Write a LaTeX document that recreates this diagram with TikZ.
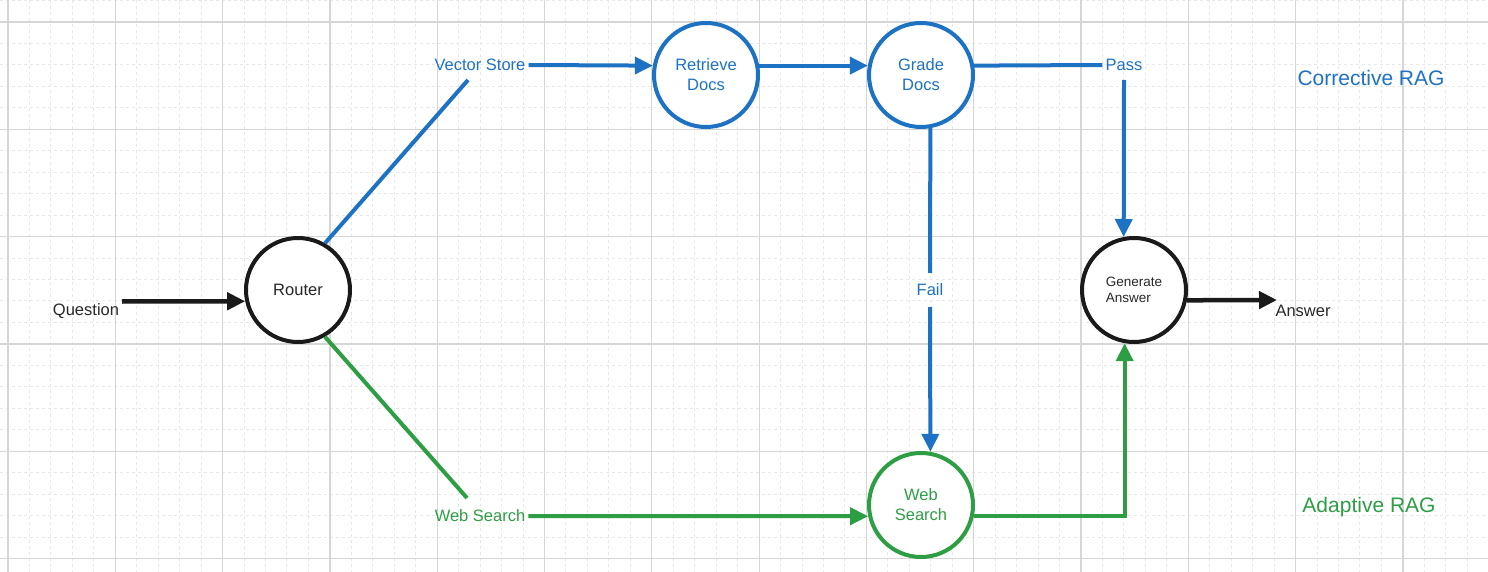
\documentclass[tikz,border=0pt]{standalone}
\usepackage{fontspec}
\setmainfont{Liberation Sans}
\usetikzlibrary{arrows.meta}
\begin{document}
\definecolor{cblue}{RGB}{30,114,196}
\definecolor{cgreen}{RGB}{46,158,68}
\definecolor{cblack}{RGB}{26,26,26}
\definecolor{ctext}{RGB}{40,40,40}
\definecolor{gmajor}{RGB}{214,214,214}
\definecolor{gminor}{RGB}{232,232,232}
\tikzset{
  tip/.style={-{Triangle[length=18pt,width=17pt]}},
  circ/.style={circle,minimum size=104pt,inner sep=0pt,line width=4pt,align=center,font=\fontsize{16.5}{20}\selectfont},
  lbl/.style={inner sep=3pt,font=\fontsize{16.5}{20}\selectfont},
  bline/.style={draw=cblue,line width=4pt},
  gline/.style={draw=cgreen,line width=4pt},
  kline/.style={draw=cblack,line width=4.5pt},
}
\begin{tikzpicture}[x=1pt,y=-1pt]
\useasboundingbox (0,0) rectangle (1488,572);
\fill[white] (0,0) rectangle (1488,572);
% minor grid
\foreach \i in {-1,...,70} {
  \draw[gminor,line width=1pt,dash pattern=on 3pt off 3pt] ({8+\i*21.46},0) -- ({8+\i*21.46},572);
}
\foreach \i in {-2,...,27} {
  \draw[gminor,line width=1pt,dash pattern=on 3pt off 3pt] (0,{22+\i*21.46}) -- (1488,{22+\i*21.46});
}
% major grid
\foreach \i in {0,...,13} {
  \draw[gmajor,line width=1.2pt] ({8+\i*107.3},0) -- ({8+\i*107.3},572);
}
\foreach \i in {0,...,5} {
  \draw[gmajor,line width=1.2pt] (0,{22+\i*107.3}) -- (1488,{22+\i*107.3});
}
% nodes
\node[circ,draw=cblack,fill=white,text=ctext] (router) at (298,290) {Router};
\node[circ,draw=cblue,fill=white,text=cblue] (ret) at (706,75) {Retrieve\\Docs};
\node[circ,draw=cblue,fill=white,text=cblue] (grade) at (921,75) {Grade\\Docs};
\node[circ,draw=cblack,fill=white,text=ctext,font=\fontsize{13.5}{16}\selectfont,align=left] (gen) at (1134,290) {Generate\\Answer};
\node[circ,draw=cgreen,fill=white,text=cgreen] (web) at (921,505) {Web\\Search};
% labels
\node[lbl,text=ctext] (q) at (86,311) {Question};
\node[lbl,text=ctext] (ans) at (1303,311) {Answer};
\node[lbl,text=cblue] (vs) at (480,65) {Vector Store};
\node[lbl,text=cgreen] (ws) at (480,516) {Web Search};
\node[lbl,text=cblue] (pass) at (1124,65) {Pass};
\node[lbl,text=cblue,fill=white,inner sep=1pt] (fail) at (930,290) {Fail};
\node[text=cblue,font=\fontsize{21}{25}\selectfont] (crag) at (1371,78) {Corrective RAG};
\node[text=cgreen,font=\fontsize{21}{25}\selectfont] (arag) at (1369,507) {Adaptive RAG};
% free ends
\coordinate (qstart) at (122,301.5);
\coordinate (vsend) at (468,80);
\coordinate (wsend) at (467,498);
\coordinate (ansend) at (1277,300);
\coordinate (passtop) at (1124,80);
\coordinate (failtop) at (930,273);
\coordinate (failbot) at (930,307);
% connectors
\draw[kline,tip] (qstart) -- (router.192);
\draw[bline] (router.60) -- (vsend);
\draw[bline,tip] (vs.east) -- (ret.170);
\draw[bline,tip] (ret.10) -- (grade.170);
\draw[bline] (grade.10) -- (pass.west);
\draw[bline,tip] (passtop) -- (gen.101);
\draw[bline] (grade.280) -- (failtop);
\draw[bline,tip] (failbot) -- (web.80);
\draw[gline] (router.300) -- (wsend);
\draw[gline,tip] (ws.east) -- (web.192);
\draw[gline,tip] (web.348) -| (gen.260);
\draw[kline,tip] (gen.349) -- (ansend);
\end{tikzpicture}
\end{document}
